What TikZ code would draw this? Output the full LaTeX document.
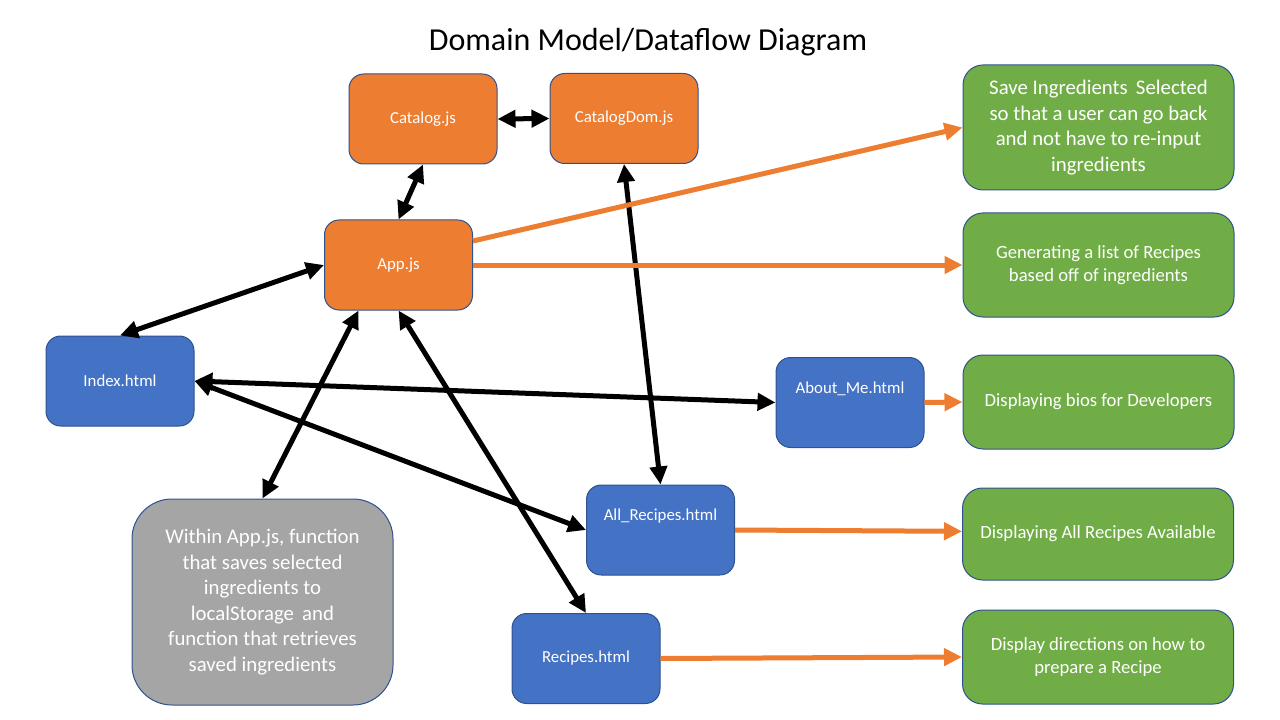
\documentclass[tikz,border=0pt]{standalone}
\usepackage{fontspec}
\setmainfont{Carlito}
\usetikzlibrary{arrows.meta}
\definecolor{jsorange}{HTML}{ED7D31}
\definecolor{pageblue}{HTML}{4472C4}
\definecolor{goalgreen}{HTML}{70AD47}
\definecolor{notegray}{HTML}{A5A5A5}
\definecolor{boxline}{HTML}{2F528F}

\begin{document}
\begin{tikzpicture}[x=0.75pt,y=-0.75pt,edge/.style={draw,line width=3.75pt}]
    \tikzstyle{box node}=[draw=boxline,line width=0.75pt,rounded corners=11pt,text=white,inner sep=0pt,
        minimum width=111pt,minimum height=67.5pt,font=\fontsize{12.6}{15}\selectfont]
    \tikzstyle{js node}=[box node,fill=jsorange]
    \tikzstyle{page node}=[box node,fill=pageblue]
    \tikzstyle{page text}=[text=white,font=\fontsize{12.6}{15}\selectfont]
    \tikzstyle{goal node}=[box node,fill=goalgreen,align=center,minimum width=203.25pt,rounded corners=15pt,
        font=\fontsize{14}{17.25}\selectfont]
    \tikzstyle{note node}=[box node,fill=notegray,align=center,minimum width=195.75pt,minimum height=154.5pt,
        rounded corners=30pt,font=\fontsize{15.6}{19.1}\selectfont]
    \tikzstyle{both ways}=[edge,black,{Triangle[length=13.5pt,width=12.75pt]}-{Triangle[length=13.5pt,width=12.75pt]}]
    \tikzstyle{feeds}=[edge,jsorange,-{Triangle[length=13.5pt,width=12.75pt]}]

    \useasboundingbox (0,0) rectangle (1280,720);

    \node (title) at (648,42) {\fontsize{24}{28}\selectfont Domain Model/Dataflow Diagram};

    % scripts
    \node (catalog)[js node] at (423,119) {Catalog.js};
    \node (catalogdom)[js node] at (624,118.5) {CatalogDom.js};
    \node (app)[js node] at (398.5,265) {App.js};

    % pages
    \node (index)[page node] at (120,381) {Index.html};
    \node (aboutme)[page node,label={[page text,yshift=10.5pt]center:About\_Me.html}] at (850,402.5) {};
    \node (allrecipes)[page node,label={[page text,yshift=10.5pt]center:All\_Recipes.html}] at (660.5,530) {};
    \node (recipes)[page node] at (586,658.5) {Recipes.html};

    % storage note
    \node (storage)[note node] at (262.5,602) {Within App.js, function\\ that saves selected\\ ingredients to\\
        localStorage\, and\\ function that retrieves\\ saved ingredients};

    % what each part does
    \node (g1)[goal node,minimum height=93.75pt,font=\fontsize{15.6}{19.2}\selectfont] at (1098.5,127.5)
        {Save Ingredients\, Selected\\ so that a user can go back\\ and not have to re-input\\ ingredients};
    \node (g2)[goal node,minimum height=78pt] at (1098.5,265) {Generating a list of Recipes\\ based off of ingredients};
    \node (g3)[goal node,minimum height=70.5pt] at (1098.5,402) {Displaying bios for Developers};
    \node (g4)[goal node,minimum height=69pt] at (1098,534) {Displaying All Recipes Available};
    \node (g5)[goal node,minimum height=70.5pt] at (1098,657) {Display directions on how to\\ prepare a Recipe};

    % data flow
    \draw[both ways] (catalog.east) -- (catalogdom.west);
    \draw[both ways] (catalog.south) -- (app.north);
    \draw[both ways] (app.west) -- (index.north);
    \draw[both ways] (catalogdom.south) -- (allrecipes.north);
    \draw[both ways] ([xshift=-30pt]app.south) -- (storage.north);
    \draw[both ways] (app.south) -- (recipes.north);
    \draw[both ways] (index.east) -- (aboutme.west);
    \draw[both ways] (index.east) -- (allrecipes.west);

    % purpose
    \draw[feeds] ([yshift=18pt]app.east) -- (g1.west);
    \draw[feeds] (app.east) -- (g2.west);
    \draw[feeds] (aboutme.east) -- (g3.west);
    \draw[feeds] (allrecipes.east) -- ([yshift=2pt]g4.west);
    \draw[feeds] (recipes.east) -- (g5.west);
\end{tikzpicture}
\end{document}
